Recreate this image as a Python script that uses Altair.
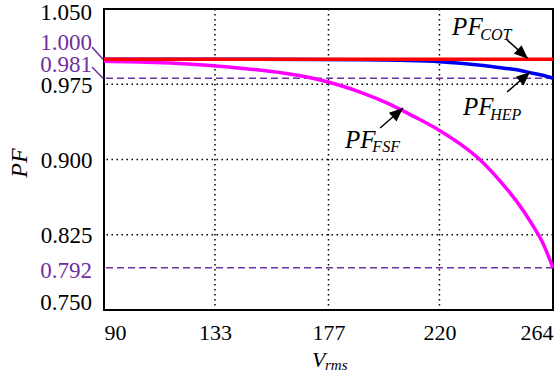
import math
import altair as alt
import pandas as pd

# ---- data ----
V_FSF = [90, 110, 130, 145, 160, 170, 180, 190, 200, 210, 220, 228, 236, 244, 250, 256, 260, 264]
PF_FSF = [0.998, 0.9968, 0.994, 0.9905, 0.986, 0.9815, 0.975, 0.9665, 0.956, 0.943,
          0.929, 0.9155, 0.899, 0.877, 0.858, 0.835, 0.817, 0.792]
V_HEP = [90, 150, 190, 205, 220, 236, 245, 251, 256, 260, 264]
PF_HEP = [1.000, 1.000, 0.9995, 0.9988, 0.9975, 0.994, 0.991, 0.989, 0.986, 0.984, 0.981]
V_COT = [90, 264]
PF_COT = [1.000, 1.000]

X_TICKS = [90, 133, 177, 220, 264]
Y_TICKS_MID = [0.825, 0.900, 0.975]
GRID_X = [133, 177, 220]
GRID_Y = [0.825, 0.900, 0.975]
REF_Y = [0.981, 0.792]

# annotation arrows (start V, start PF, end V, end PF)
ARROW_NAME = ["COT", "HEP", "FSF"]
ARROW_V0 = [246.2, 246.2, 197.0]
ARROW_P0 = [1.0191, 0.9673, 0.9314]
ARROW_V1 = [254.3, 255.1, 205.9]
ARROW_P1 = [1.0005, 0.9872, 0.9513]

# annotation labels: main text "PF" and subscripts
LBL_MAIN_V = [224.9, 229.1, 183.4]
LBL_MAIN_P = [1.024, 0.9443, 0.9114]
LBL_SUB = ["COT", "HEP", "FSF"]
LBL_SUB_V = [235.8, 239.7, 194.0]
LBL_SUB_P = [1.0195, 0.9393, 0.9074]

W, H = 449, 301
XD = [90, 264]
YD = [0.750, 1.050]
FONT = "Liberation Serif"
PURPLE = "#7030A0"
LSIZE = 23

xs = alt.Scale(domain=XD, nice=False, zero=False)
ys = alt.Scale(domain=YD, nice=False, zero=False)

fsf = pd.DataFrame({"V": V_FSF, "PF": PF_FSF})
hep = pd.DataFrame({"V": V_HEP, "PF": PF_HEP})
cot = pd.DataFrame({"V": V_COT, "PF": PF_COT})

# direction of arrow in pixel space -> angle of head
angles = []
for v0, p0, v1, p1 in zip(ARROW_V0, ARROW_P0, ARROW_V1, ARROW_P1):
    dx = (v1 - v0) * W / (XD[1] - XD[0])
    dy = -(p1 - p0) * H / (YD[1] - YD[0])
    angles.append(math.degrees(math.atan2(dx, -dy)) % 360)
arrows = pd.DataFrame({"name": ARROW_NAME, "v0": ARROW_V0, "p0": ARROW_P0,
                       "v1": ARROW_V1, "p1": ARROW_P1, "ang": angles})
labels_main = pd.DataFrame({"t": ["PF"] * 3, "V": LBL_MAIN_V, "PF": LBL_MAIN_P})
labels_sub = pd.DataFrame({"t": LBL_SUB, "V": LBL_SUB_V, "PF": LBL_SUB_P})

x_axis = alt.Axis(values=X_TICKS, title=None, labelFont=FONT, labelFontSize=22,
                  labelColor="black", labelFlush=True, ticks=False, domain=False,
                  grid=False, labelPadding=12)
y_axis = alt.Axis(values=Y_TICKS_MID, title=None, format=".3f", labelFont=FONT,
                  labelFontSize=LSIZE, labelColor="black", labelFlush=False, ticks=False,
                  domain=False, grid=False, labelPadding=12, labelOffset=1)

grid_x = alt.Chart(pd.DataFrame({"V": GRID_X})).mark_rule(
    color="black", strokeWidth=1.5, strokeDash=[1.5, 3.5]
).encode(x=alt.X("V:Q", scale=xs, axis=x_axis))

grid_y = alt.Chart(pd.DataFrame({"PF": GRID_Y})).mark_rule(
    color="black", strokeWidth=1.5, strokeDash=[1.5, 3.5]
).encode(y=alt.Y("PF:Q", scale=ys, axis=y_axis))

ref_y = alt.Chart(pd.DataFrame({"PF": REF_Y})).mark_rule(
    color=PURPLE, strokeWidth=1.5, strokeDash=[7, 4]
).encode(y=alt.Y("PF:Q", scale=ys))

def curve(df, color, width):
    return alt.Chart(df).mark_line(color=color, strokeWidth=width, interpolate="monotone").encode(
        x=alt.X("V:Q", scale=xs), y=alt.Y("PF:Q", scale=ys))

line_fsf = curve(fsf, "#FF00FF", 3.5)
line_hep = curve(hep, "#0000F0", 3.5)
line_cot = curve(cot, "#FF0000", 3.5)

arrow_lines = alt.Chart(arrows).mark_rule(color="black", strokeWidth=1.5).encode(
    x=alt.X("v0:Q", scale=xs), y=alt.Y("p0:Q", scale=ys),
    x2="v1:Q", y2="p1:Q")
arrow_heads = alt.Chart(arrows).mark_point(
    shape="M0,0 L0.8,1.9 L-0.8,1.9 Z", filled=True, color="black", opacity=1, size=210
).encode(x=alt.X("v1:Q", scale=xs), y=alt.Y("p1:Q", scale=ys),
         angle=alt.Angle("ang:Q", scale=None))

txt_main = alt.Chart(labels_main).mark_text(
    font=FONT, fontSize=25, fontStyle="italic", align="left", baseline="alphabetic", color="black"
).encode(x=alt.X("V:Q", scale=xs), y=alt.Y("PF:Q", scale=ys), text="t:N")
txt_sub = alt.Chart(labels_sub).mark_text(
    font=FONT, fontSize=16, fontStyle="italic", align="left", baseline="alphabetic", color="black"
).encode(x=alt.X("V:Q", scale=xs), y=alt.Y("PF:Q", scale=ys), text="t:N")

# y labels drawn as text (end labels and purple labels)
def ylabel(val, txt, dy, color):
    return alt.Chart(pd.DataFrame({"PF": [val], "t": [txt]})).mark_text(
        font=FONT, fontSize=LSIZE, color=color, align="right", baseline="middle", dy=dy
    ).encode(x=alt.value(-12), y=alt.Y("PF:Q", scale=ys), text="t:N")

lab_1050 = ylabel(1.050, "1.050", 4, "black")
lab_0750 = ylabel(0.750, "0.750", -7, "black")
lab_1000 = ylabel(1.000, "1.000", -16, PURPLE)
lab_0981 = ylabel(0.981, "0.981", -13.5, PURPLE)
lab_0792 = ylabel(0.792, "0.792", 3, PURPLE)

leader = alt.Chart(pd.DataFrame({"a": [1.000, 0.981], "b": [1.012, 0.9922]})).mark_rule(
    color=PURPLE, strokeWidth=1.5
).encode(x=alt.value(-1), x2=alt.value(-12), y=alt.Y("a:Q", scale=ys), y2="b:Q")

# axis titles
title_pf = alt.Chart(pd.DataFrame({"t": ["PF"]})).mark_text(
    font=FONT, fontSize=24, fontStyle="italic", angle=270, color="black",
    align="center", baseline="middle"
).encode(x=alt.value(-84), y=alt.value(154), text="t:N")
title_v = alt.Chart(pd.DataFrame({"t": ["V"]})).mark_text(
    font=FONT, fontSize=22, fontStyle="italic", color="black", align="left", baseline="alphabetic"
).encode(x=alt.value(208), y=alt.value(358), text="t:N")
title_rms = alt.Chart(pd.DataFrame({"t": ["rms"]})).mark_text(
    font=FONT, fontSize=15, fontStyle="italic", color="black", align="left", baseline="alphabetic"
).encode(x=alt.value(221), y=alt.value(361), text="t:N")

chart = alt.layer(
    grid_x, grid_y, ref_y, line_fsf, line_hep, line_cot,
    arrow_lines, arrow_heads, txt_main, txt_sub,
    lab_1050, lab_0750, lab_1000, lab_0981, lab_0792, leader,
    title_pf, title_v, title_rms
).properties(
    width=W, height=H,
    autosize=alt.AutoSizeParams(type="none"),
    padding={"left": 104, "top": 9, "right": 1, "bottom": 71},
    background="white",
).configure_view(stroke="black", strokeWidth=2)

chart.save("out.html", embed_options={"renderer": "svg", "actions": False})
